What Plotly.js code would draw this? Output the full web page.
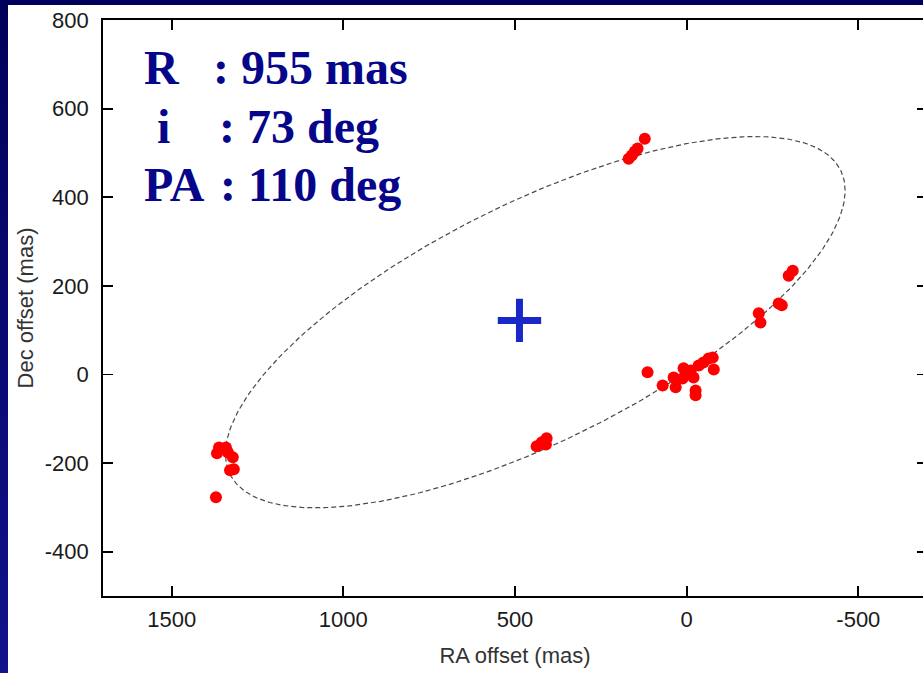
<!DOCTYPE html>
<html><head><meta charset="utf-8">
<script src="https://cdn.plot.ly/plotly-3.0.1.min.js"></script>
<style>
html,body{margin:0;padding:0;width:923px;height:673px;overflow:hidden;background:#00005e;}
#leftband{position:absolute;left:0;top:0;width:8px;height:673px;background:linear-gradient(#00005a,#12128c);}
#white{position:absolute;left:8px;top:5px;right:0;bottom:0;background:#ffffff;}
#plot{position:absolute;left:0;top:0;}
</style></head><body>
<div id="leftband"></div><div id="white"></div><div id="plot"></div>
<script>
// Observed positions (mas)
const raOffset = [1362, 1368, 1342, 1336, 1322, 1319, 1330, 1371,
                  122, 143, 151, 160, 169,
                  437, 422, 408, 410,
                  114, 70, 38, 32, 9, 12, -20, -26, -26, -12, -35, -49, -64, -76, -79, -6,
                  -309, -297, -268, -277, -210, -215];
const decOffset = [-165, -178, -165, -176, -187, -214, -216, -277,
                   532, 510, 503, 494, 487,
                   -162, -153, -144, -158,
                   5, -25, -7, -29, 14, -9, -7, -36, -47, 9, 20, 27, 36, 38, 11, 2,
                   234, 223, 160, 156, 138, 117];
// Center marker
const centerRA = [487];
const centerDec = [122];
// Fitted ring parameters
const ringR = 955;      // mas
const ringInc = 73;     // deg
const ringPA = 110;     // deg
const ringCenterRA = 441;
const ringCenterDec = 118;
// Ticks
const xTickVals = [1500, 1000, 500, 0, -500];
const xTickText = ['1500', '1000', '500', '0', '-500'];
const yTickVals = [-400, -200, 0, 200, 400, 600, 800];
const yTickText = ['-400', '-200', '0', '200', '400', '600', '800'];
// Text
const paramLabels = ['R', 'i', 'PA'];
const paramValues = [': 955 mas', ': 73 deg', ': 110 deg'];
const xTitle = 'RA offset (mas)';
const yTitle = 'Dec offset (mas)';

// ring curve from the stated parameters
const ringX = [], ringY = [];
const a = ringR, b = ringR * Math.cos(ringInc * Math.PI / 180);
const pa = ringPA * Math.PI / 180;
for (let k = 0; k <= 360; k++) {
  const t = k * Math.PI / 180;
  ringX.push(ringCenterRA + a * Math.cos(t) * Math.sin(pa) + b * Math.sin(t) * Math.cos(pa));
  ringY.push(ringCenterDec + a * Math.cos(t) * Math.cos(pa) - b * Math.sin(t) * Math.sin(pa));
}

const W = 940, H = 673, ML = 103, MR = 13, MT = 20, MB = 77;
const PW = W - ML - MR, PH = H - MT - MB;
const px = v => (v - ML) / PW;
const py = v => (H - MB - v) / PH;

const traces = [
  {x: ringX, y: ringY, mode: 'lines', type: 'scatter', hoverinfo: 'skip',
   line: {color: '#4a4a4a', width: 1.2, dash: '5px,3px'}},
  {x: raOffset, y: decOffset, mode: 'markers', type: 'scatter',
   marker: {color: '#ff0000', size: 12, line: {width: 0}}},
  {x: centerRA, y: centerDec, mode: 'markers', type: 'scatter',
   marker: {symbol: 'cross-thin', size: 31, color: '#1a28c8', line: {color: '#1a28c8', width: 7}}}
];

const textFont = {family: 'Liberation Serif, Times New Roman, serif', size: 48, color: '#06068a', weight: 'bold'};
const rowsY = [67, 126, 184];
const labelX = [142, 155, 142];
const valueX = [211, 217, 218];
const annotations = [];
for (let i = 0; i < paramLabels.length; i++) {
  annotations.push({xref: 'paper', yref: 'paper', x: px(labelX[i]), y: py(rowsY[i]),
    xanchor: 'left', yanchor: 'middle', showarrow: false, text: paramLabels[i], font: textFont});
  annotations.push({xref: 'paper', yref: 'paper', x: px(valueX[i]), y: py(rowsY[i]),
    xanchor: 'left', yanchor: 'middle', showarrow: false, text: paramValues[i], font: textFont});
}

const tickFont = {family: 'Liberation Sans, Arial, sans-serif', size: 22, color: '#1a1a1a'};
const titleFont = {family: 'Liberation Sans, Arial, sans-serif', size: 22, color: '#333333'};

const layout = {
  width: W, height: H,
  margin: {l: ML, r: MR, t: MT, b: MB, pad: 0},
  paper_bgcolor: 'rgba(0,0,0,0)', plot_bgcolor: '#ffffff',
  showlegend: false,
  xaxis: {range: [1700, -700], autorange: false, tickmode: 'array', tickvals: xTickVals, ticktext: xTickText,
    showgrid: false, zeroline: false, showline: true, linecolor: '#000', linewidth: 1.8,
    mirror: 'ticks', ticks: 'inside', ticklen: 10, tickwidth: 1.8, tickcolor: '#000',
    tickfont: tickFont, ticklabelstandoff: 3,
    title: {text: xTitle, font: titleFont, standoff: 16}},
  yaxis: {range: [-500, 800], autorange: false, tickmode: 'array', tickvals: yTickVals, ticktext: yTickText,
    showgrid: false, zeroline: false, showline: true, linecolor: '#000', linewidth: 1.8,
    mirror: 'ticks', ticks: 'inside', ticklen: 10, tickwidth: 1.8, tickcolor: '#000',
    tickfont: tickFont, ticklabelstandoff: 8,
    title: {text: yTitle, font: titleFont, standoff: 5}},
  annotations: annotations
};

Plotly.newPlot('plot', traces, layout, {displayModeBar: false, staticPlot: true});
</script>
</body></html>
